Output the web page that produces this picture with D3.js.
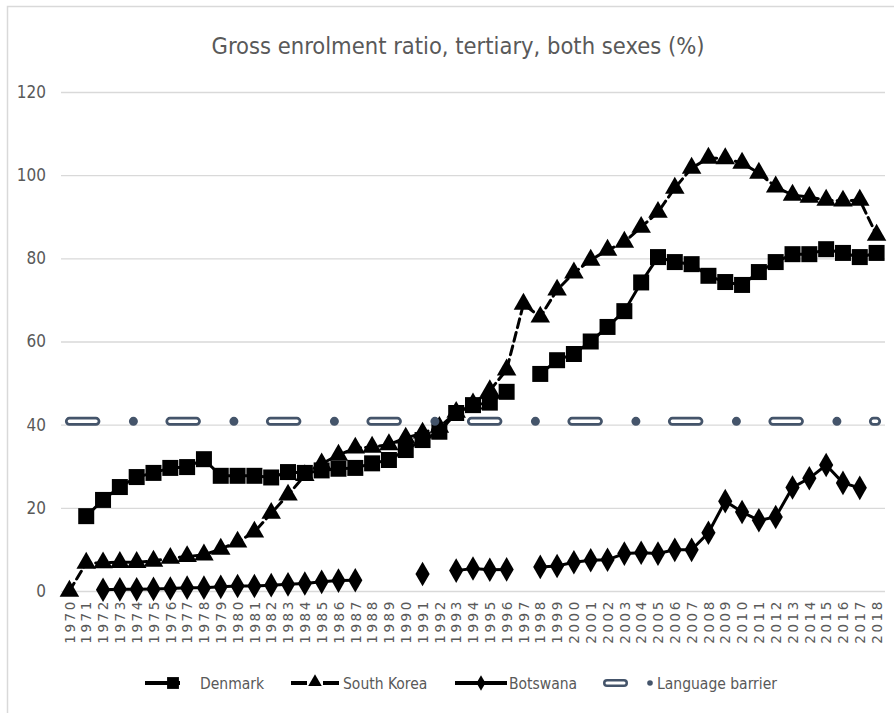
<!DOCTYPE html>
<meta charset="utf-8">
<style>
  body { margin: 0; background: #fff; }
  svg { display: block; }
  .narrow { font-family: "Liberation Sans Narrow", "DejaVu Sans Condensed", "Arial Narrow", sans-serif; }
</style>
<body>
<div id="chart"></div>
<script src="https://d3js.org/d3.v7.min.js"></script>
<script>

// Years on the x axis
var years = d3.range(1970, 2019).map(String);

// Values (null = no data)
var denmark = [null, 18, 21.9, 25, 27.4, 28.4, 29.6, 29.8, 31.7, 27.7,
  27.7, 27.7, 27.3, 28.6, 28.4, 29, 29.4, 29.6, 30.7, 31.5,
  33.9, 36.3, 38.3, 42.8, 44.7, 45.3, 47.9, null, 52.2, 55.5,
  57, 60, 63.5, 67.3, 74.2, 80.3, 79.1, 78.6, 75.8, 74.3,
  73.6, 76.7, 79.1, 81, 81, 82.2, 81.3, 80.3, 81.3];

var southKorea = [0, 6.7, 6.8, 6.9, 6.9, 7.2, 7.9, 8.3, 8.7, 10.1,
  11.8, 14.2, 18.7, 23.1, 27.8, 30.6, 32.7, 34.4, 34.6, 35.2,
  36.8, 38, 39.4, 43, 45, 48.2, 53.2, 69, 65.9, 72.4,
  76.5, 79.6, 82, 83.9, 87.5, 91.1, 96.9, 101.7, 104.1, 104,
  102.9, 100.5, 97.2, 95.2, 94.7, 94, 93.8, 94, 85.6];

var botswana = [null, null, 0.3, 0.4, 0.4, 0.5, 0.6, 0.8, 0.8, 1,
  1.2, 1.2, 1.4, 1.6, 1.8, 2.2, 2.5, 2.6, null, null,
  null, 4.1, null, 4.9, 5.4, 5.1, 5.2, null, 5.8, 6,
  6.9, 7.4, 7.5, 9, 9.2, 9, 9.9, 9.9, 14, 21.6,
  19, 17, 17.8, 24.9, 27.1, 30.3, 26, 24.8, null];

var languageBarrier = years.map(function() { return 40.8; });

var yTicks = [0, 20, 40, 60, 80, 100, 120];
var seriesNames = ["Denmark", "South Korea", "Botswana", "Language barrier"];
var title = "Gross enrolment ratio, tertiary, both sexes (%)";

var W = 894, H = 713;
var svg = d3.select("#chart").append("svg")
  .attr("width", W).attr("height", H);

// chart frame (runs off the picture on the right and bottom)
svg.append("rect")
  .attr("x", 7.5).attr("y", 6.5)
  .attr("width", 900).attr("height", 720)
  .attr("fill", "#fff").attr("stroke", "#d9d9d9").attr("stroke-width", 1.5);

// title
svg.append("text")
  .attr("class", "narrow")
  .attr("x", 458).attr("y", 54)
  .attr("text-anchor", "middle")
  .attr("font-size", 23.5)
  .attr("fill", "#595959")
  .text(title);

var x = d3.scalePoint()
  .domain(years)
  .range([61, 885])
  .padding(0.5);

var y = d3.scaleLinear()
  .domain([0, 120])
  .range([591, 92]);

// gridlines + y labels
var yAxis = svg.append("g")
  .attr("transform", "translate(61,0)")
  .call(d3.axisLeft(y).tickValues(yTicks).tickSize(-824).tickPadding(15));
yAxis.select(".domain").remove();
yAxis.selectAll(".tick line").attr("stroke", "#d9d9d9").attr("stroke-width", 1.3);
yAxis.selectAll(".tick text")
  .attr("class", "narrow")
  .attr("font-size", 17)
  .attr("fill", "#595959");

// x labels, rotated
var xAxis = svg.append("g")
  .attr("transform", "translate(0,591)")
  .call(d3.axisBottom(x).tickSize(0));
xAxis.select(".domain").remove();
xAxis.selectAll(".tick text")
  .attr("font-family", "DejaVu Sans, sans-serif")
  .attr("font-size", 13.5)
  .attr("letter-spacing", 2.6)
  .attr("fill", "#595959")
  .attr("text-anchor", "end")
  .attr("transform", "translate(0,8) rotate(-90)")
  .attr("dx", 0).attr("dy", "0.35em")
  .attr("y", 0).attr("x", 0);

function pts(values) {
  return years.map(function(yr, i) { return { year: yr, v: values[i] }; });
}

var line = d3.line()
  .defined(function(d) { return d.v != null; })
  .x(function(d) { return x(d.year); })
  .y(function(d) { return y(d.v); });

var plot = svg.append("g");

// Denmark
plot.append("path")
  .datum(pts(denmark))
  .attr("fill", "none").attr("stroke", "#000").attr("stroke-width", 3)
  .attr("d", line);
plot.selectAll(".dk")
  .data(pts(denmark).filter(function(d) { return d.v != null; }))
  .enter().append("path")
  .attr("transform", function(d) { return "translate(" + x(d.year) + "," + y(d.v) + ")"; })
  .attr("d", d3.symbol().type(d3.symbolSquare).size(256))
  .attr("fill", "#000");

// South Korea
plot.append("path")
  .datum(pts(southKorea))
  .attr("fill", "none").attr("stroke", "#000").attr("stroke-width", 3)
  .attr("stroke-dasharray", "9 5")
  .attr("stroke-linecap", "round")
  .attr("d", line);
plot.selectAll(".kr")
  .data(pts(southKorea))
  .enter().append("path")
  .attr("transform", function(d) { return "translate(" + x(d.year) + "," + y(d.v) + ")"; })
  .attr("d", d3.symbol().type(d3.symbolTriangle).size(165))
  .attr("fill", "#000");

// Botswana
plot.append("path")
  .datum(pts(botswana))
  .attr("fill", "none").attr("stroke", "#000").attr("stroke-width", 3)
  .attr("d", line);
plot.selectAll(".bw")
  .data(pts(botswana).filter(function(d) { return d.v != null; }))
  .enter().append("path")
  .attr("transform", function(d) { return "translate(" + x(d.year) + "," + y(d.v) + ")"; })
  .attr("d", d3.symbol().type(d3.symbolDiamond).size(175))
  .attr("fill", "#000");

// Language barrier: outlined long dash + dot
var lbColor = "#44546a";
plot.append("path")
  .datum(pts(languageBarrier))
  .attr("fill", "none").attr("stroke", lbColor).attr("stroke-width", 9)
  .attr("stroke-linecap", "round")
  .attr("stroke-dasharray", "26.5 37.5 0 36.5")
  .attr("d", line);
plot.append("path")
  .datum(pts(languageBarrier))
  .attr("fill", "none").attr("stroke", "#fff").attr("stroke-width", 3.5)
  .attr("stroke-linecap", "round")
  .attr("stroke-dasharray", "26.5 74")
  .attr("d", line);

// legend
var lg = svg.append("g").attr("class", "narrow").attr("font-size", 15.5).attr("fill", "#595959");
var ly = 683;

lg.append("line").attr("x1", 145).attr("x2", 180).attr("y1", ly).attr("y2", ly)
  .attr("stroke", "#000").attr("stroke-width", 4);
lg.append("path").attr("transform", "translate(173," + ly + ")")
  .attr("d", d3.symbol().type(d3.symbolSquare).size(140)).attr("fill", "#000");
lg.append("text").attr("x", 200).attr("y", ly + 6).text(seriesNames[0]);

lg.append("line").attr("x1", 291).attr("x2", 339).attr("y1", ly).attr("y2", ly)
  .attr("stroke", "#000").attr("stroke-width", 4)
  .attr("stroke-dasharray", "16 16 16");
lg.append("path").attr("transform", "translate(315," + (ly - 1) + ")")
  .attr("d", d3.symbol().type(d3.symbolTriangle).size(80)).attr("fill", "#000");
lg.append("text").attr("x", 343).attr("y", ly + 6).text(seriesNames[1]);

lg.append("line").attr("x1", 455).attr("x2", 507).attr("y1", ly).attr("y2", ly)
  .attr("stroke", "#000").attr("stroke-width", 4);
lg.append("path").attr("transform", "translate(481," + ly + ")")
  .attr("d", d3.symbol().type(d3.symbolDiamond).size(70)).attr("fill", "#000");
lg.append("text").attr("x", 509).attr("y", ly + 6).text(seriesNames[2]);

lg.append("line").attr("x1", 607).attr("x2", 624).attr("y1", ly).attr("y2", ly)
  .attr("stroke", lbColor).attr("stroke-width", 8).attr("stroke-linecap", "round");
lg.append("line").attr("x1", 607).attr("x2", 624).attr("y1", ly).attr("y2", ly)
  .attr("stroke", "#fff").attr("stroke-width", 3).attr("stroke-linecap", "round");
lg.append("circle").attr("cx", 650).attr("cy", ly).attr("r", 2.8).attr("fill", lbColor);
lg.append("text").attr("x", 657).attr("y", ly + 6).text(seriesNames[3]);

</script>
</body>
